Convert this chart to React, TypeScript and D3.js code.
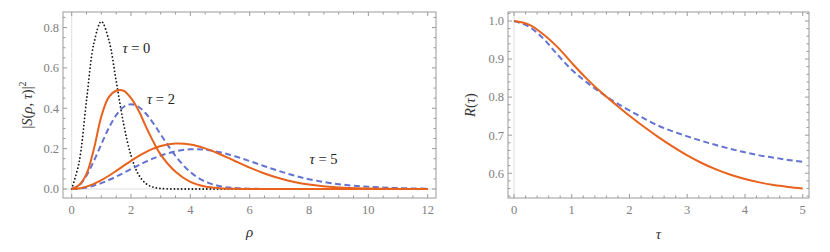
import * as React from "react"
import * as d3 from "d3"

// left panel: |S(rho,tau)|^2 against rho
const rho = [0, 0.25, 0.5, 0.75, 1, 1.25, 1.5, 1.75, 2, 2.25, 2.5, 2.75, 3, 3.5, 4, 4.5, 5, 5.5, 6, 6.5, 7, 7.5, 8, 9, 10, 11, 12]
const tau0Dotted = [0, 0.1325, 0.4393, 0.7231, 0.83, 0.739, 0.535, 0.3231, 0.1653, 0.0723, 0.0272, 0.0089, 0.0025, 0.0001, 0, 0, 0, 0, 0, 0, 0, 0, 0, 0, 0, 0, 0]
const tau2Solid = [0, 0.02, 0.075, 0.2, 0.36, 0.455, 0.487, 0.487, 0.45, 0.39, 0.31, 0.235, 0.17, 0.085, 0.035, 0.012, 0.004, 0.0012, 0.0003, 0, 0, 0, 0, 0, 0, 0, 0]
const tau2Dashed = [0, 0.0176, 0.067, 0.1395, 0.2223, 0.3018, 0.3659, 0.4065, 0.42, 0.4076, 0.3739, 0.3259, 0.2707, 0.1635, 0.0836, 0.0366, 0.0138, 0.0045, 0.0013, 0.0003, 0, 0, 0, 0, 0, 0, 0]
const tau5Solid = [0, 0.0029, 0.0116, 0.0255, 0.0439, 0.0657, 0.0897, 0.1146, 0.1393, 0.1624, 0.1829, 0.2, 0.213, 0.2256, 0.2207, 0.2012, 0.1722, 0.1389, 0.1061, 0.0769, 0.053, 0.0347, 0.0218, 0.0074, 0.0021, 0.0005, 0.0001]
const tau5Dashed = [0, 0.0019, 0.0077, 0.0169, 0.0293, 0.0444, 0.0614, 0.0797, 0.0986, 0.1173, 0.1352, 0.1516, 0.1659, 0.187, 0.1965, 0.1943, 0.182, 0.1624, 0.1384, 0.113, 0.0886, 0.0667, 0.0484, 0.024, 0.011, 0.0045, 0.0015]

// right panel: R(tau)
const tau = [0, 0.25, 0.5, 0.75, 1, 1.25, 1.5, 1.75, 2, 2.25, 2.5, 2.75, 3, 3.25, 3.5, 3.75, 4, 4.25, 4.5, 4.75, 5]
const rSolid = [1, 0.991, 0.966, 0.932, 0.89, 0.85, 0.814, 0.782, 0.751, 0.722, 0.695, 0.67, 0.647, 0.627, 0.61, 0.596, 0.585, 0.576, 0.569, 0.564, 0.56]
const rDashed = [1, 0.986, 0.955, 0.912, 0.872, 0.84, 0.812, 0.787, 0.765, 0.744, 0.725, 0.71, 0.697, 0.685, 0.674, 0.664, 0.655, 0.647, 0.641, 0.635, 0.63]

// ticks
const xTicksL = [0, 2, 4, 6, 8, 10, 12]
const yTicksL = [0, 0.2, 0.4, 0.6, 0.8]
const xTicksR = [0, 1, 2, 3, 4, 5]
const yTicksR = [0.6, 0.7, 0.8, 0.9, 1.0]

const curveLabels = [
    { text: "0", x: 2.18, y: 0.7 },
    { text: "2", x: 3.01, y: 0.446 },
    { text: "5", x: 8.49, y: 0.149 },
]

const ORANGE = "#e9621d"
const BLUE = "#6273d2"
const SERIF = "'Liberation Serif', 'DejaVu Serif', 'Times New Roman', Times, serif"

type Series = { xs: number[]; ys: number[]; color: string; width: number; dash?: string; cap?: string }

function Frame({ x, y, xTicks, yTicks, xMinor, yMinor, fmtX, fmtY }: any) {
    const [x0, x1] = x.range()
    const [y1, y0] = y.range()
    const major = 4, minor = 2.5
    const grey = "#9a9a9a"
    return (
        <g>
            <rect x={x0} y={y0} width={x1 - x0} height={y1 - y0} fill="none" stroke={grey} strokeWidth={1} />
            {xTicks.map((t: number) => (
                <g key={"xm" + t}>
                    <line x1={x(t)} x2={x(t)} y1={y1} y2={y1 - major} stroke={grey} />
                    <line x1={x(t)} x2={x(t)} y1={y0} y2={y0 + major} stroke={grey} />
                    <text x={x(t)} y={y1 + 16} textAnchor="middle" fontSize={12.5} fill="#808080">{fmtX(t)}</text>
                </g>
            ))}
            {xMinor.map((t: number) => (
                <g key={"xn" + t}>
                    <line x1={x(t)} x2={x(t)} y1={y1} y2={y1 - minor} stroke={grey} />
                    <line x1={x(t)} x2={x(t)} y1={y0} y2={y0 + minor} stroke={grey} />
                </g>
            ))}
            {yTicks.map((t: number) => (
                <g key={"ym" + t}>
                    <line x1={x0} x2={x0 + major} y1={y(t)} y2={y(t)} stroke={grey} />
                    <line x1={x1} x2={x1 - major} y1={y(t)} y2={y(t)} stroke={grey} />
                    <text x={x0 - 4} y={y(t)} dy="0.35em" textAnchor="end" fontSize={12.5} fill="#808080">{fmtY(t)}</text>
                </g>
            ))}
            {yMinor.map((t: number) => (
                <g key={"yn" + t}>
                    <line x1={x0} x2={x0 + minor} y1={y(t)} y2={y(t)} stroke={grey} />
                    <line x1={x1} x2={x1 - minor} y1={y(t)} y2={y(t)} stroke={grey} />
                </g>
            ))}
        </g>
    )
}

function Curves({ x, y, series }: { x: any; y: any; series: Series[] }) {
    return (
        <g>
            {series.map((s, i) => {
                const pts = s.xs.map((v, j) => [v, s.ys[j]] as [number, number])
                const line = d3.line<[number, number]>()
                    .x(d => x(d[0]))
                    .y(d => y(d[1]))
                    .curve(d3.curveCatmullRom.alpha(0.5))
                return (
                    <path key={i} d={line(pts) || ""} fill="none" stroke={s.color} strokeWidth={s.width}
                        strokeDasharray={s.dash} strokeLinecap={(s.cap as any) || "butt"} />
                )
            })}
        </g>
    )
}

const minorOf = (lo: number, hi: number, step: number, majors: number[]) =>
    d3.range(Math.ceil(lo / step) * step, hi + 1e-9, step)
        .map(v => +v.toFixed(4))
        .filter(v => !majors.some(m => Math.abs(m - v) < 1e-6))

export default function App() {
    const xL = d3.scaleLinear().domain([-0.293, 12.28]).range([63, 436])
    const yL = d3.scaleLinear().domain([-0.0446, 0.877]).range([198, 12])
    const xR = d3.scaleLinear().domain([-0.104, 5.109]).range([508, 809])
    const yR = d3.scaleLinear().domain([0.535, 1.0236]).range([198, 12])

    const leftSeries: Series[] = [
        { xs: rho, ys: tau0Dotted, color: "#111", width: 1.8, dash: "0,3.6", cap: "round" },
        { xs: rho, ys: tau5Dashed, color: BLUE, width: 2, dash: "6,3.5" },
        { xs: rho, ys: tau2Dashed, color: BLUE, width: 2, dash: "6,3.5" },
        { xs: rho, ys: tau5Solid, color: ORANGE, width: 2 },
        { xs: rho, ys: tau2Solid, color: ORANGE, width: 2 },
    ]
    const rightSeries: Series[] = [
        { xs: tau, ys: rDashed, color: BLUE, width: 2, dash: "6,3.5" },
        { xs: tau, ys: rSolid, color: ORANGE, width: 2 },
    ]
    const f1 = d3.format(".1f")
    const f0 = d3.format("d")

    return (
        <svg width={830} height={252} fontFamily={SERIF} style={{ position: "absolute", left: 0, top: 0, background: "#fff" }}>
            {/* left panel */}
            <line x1={xL(0)} x2={xL(0)} y1={12} y2={198} stroke="#dedede" />
            <line x1={63} x2={436} y1={yL(0)} y2={yL(0)} stroke="#dedede" />
            <Curves x={xL} y={yL} series={leftSeries} />
            <Frame x={xL} y={yL} xTicks={xTicksL} yTicks={yTicksL}
                xMinor={minorOf(-0.29, 12.28, 0.5, xTicksL)} yMinor={minorOf(-0.044, 0.877, 0.05, yTicksL)}
                fmtX={f0} fmtY={f1} />
            {curveLabels.map(l => (
                <text key={l.text} x={xL(l.x)} y={yL(l.y)} dy="0.35em" textAnchor="middle" fontSize={14.5} fill="#222">
                    <tspan fontStyle="italic">τ</tspan> = {l.text}
                </text>
            ))}
            <text x={249.5} y={237} textAnchor="middle" fontSize={15} fill="#333" fontStyle="italic">ρ</text>
            <text transform="translate(32,105) rotate(-90)" textAnchor="middle" fontSize={14.5} fill="#333">
                |<tspan fontStyle="italic">S</tspan>(<tspan fontStyle="italic">ρ</tspan>, <tspan fontStyle="italic">τ</tspan>)|<tspan fontSize={10} dy="-6">2</tspan>
            </text>

            {/* right panel */}
            <line x1={xR(0)} x2={xR(0)} y1={12} y2={198} stroke="#dedede" />
            <Curves x={xR} y={yR} series={rightSeries} />
            <Frame x={xR} y={yR} xTicks={xTicksR} yTicks={yTicksR}
                xMinor={minorOf(-0.1, 5.1, 0.2, xTicksR)} yMinor={minorOf(0.536, 1.023, 0.02, yTicksR)}
                fmtX={f0} fmtY={f1} />
            <text x={658.5} y={239} textAnchor="middle" fontSize={15} fill="#333" fontStyle="italic">τ</text>
            <text transform="translate(475,105) rotate(-90)" textAnchor="middle" fontSize={14.5} fill="#333">
                <tspan fontStyle="italic">R</tspan>(<tspan fontStyle="italic">τ</tspan>)
            </text>
        </svg>
    )
}
